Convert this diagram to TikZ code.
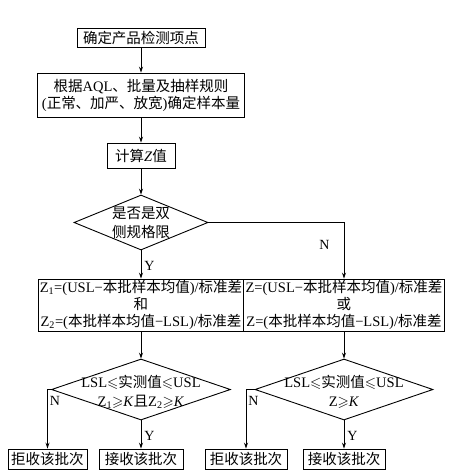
\documentclass[tikz,border=0pt]{standalone}
\usepackage{amssymb}
\usepackage{fontspec}
\setmainfont{Liberation Serif}
\newfontfamily\cjk{Noto Sans CJK SC}
\newcommand\zh[1]{{\cjk #1}}
\newcommand\myle{$\leqslant$}
\newcommand\myge{$\geqslant$}
\usetikzlibrary{shapes.geometric,arrows.meta}
\begin{document}
\begin{tikzpicture}[x=1pt,y=-1pt,
  box/.style={draw,line width=0.9pt,inner sep=0pt,align=center,font=\fontsize{14.5}{17}\selectfont},
  dia/.style={draw,line width=0.9pt,shape=diamond,inner sep=0pt},
  txt/.style={inner sep=0pt,align=center,font=\fontsize{14.5}{19}\selectfont},
  lab/.style={inner sep=0pt,font=\fontsize{14}{14}\selectfont},
  arr/.style={line width=0.9pt,-{Stealth[length=6pt,width=4pt]}}]
\useasboundingbox (0,0) rectangle (454,475);
\node[box,minimum width=128pt,minimum height=19pt] (b1) at (141,37.5) {\zh{确定产品检测项点}};
\node[box,minimum width=207pt,minimum height=44pt] (b2) at (141,95) {\zh{根据}AQL\zh{、批量及抽样规则}\\(\zh{正常、加严、放宽})\zh{确定样本量}};
\node[box,minimum width=68pt,minimum height=25pt] (b3) at (141,155.5) {\zh{计算}\textit{Z}\zh{值}};
\node[dia,minimum width=134pt,minimum height=55pt] (d1) at (141,222.5) {};
\node[txt] (d1t) at (141,222.5) {\zh{是否是双}\\\zh{侧规格限}};
\node[box,minimum width=205pt,minimum height=52pt] (f1) at (141,305) {Z\textsubscript{1}=(USL−\zh{本批样本均值})/\zh{标准差}\\\zh{和}\\Z\textsubscript{2}=(\zh{本批样本均值}−LSL)/\zh{标准差}};
\node[box,minimum width=201pt,minimum height=52pt] (f2) at (344,305) {Z=(USL−\zh{本批样本均值})/\zh{标准差}\\\zh{或}\\Z=(\zh{本批样本均值}−LSL)/\zh{标准差}};
\node[dia,minimum width=179pt,minimum height=61pt] (d2) at (141,389.5) {};
\node[txt] (d2t) at (141,392) {LSL\myle\zh{实测值}\myle USL\\Z\textsubscript{1}\myge\textit{K}\zh{且}Z\textsubscript{2}\myge\textit{K}};
\node[dia,minimum width=178pt,minimum height=61pt] (d3) at (344,389.5) {};
\node[txt] (d3t) at (344,392) {LSL\myle\zh{实测值}\myle USL\\Z\myge\textit{K}};
\node[box,minimum width=79pt,minimum height=20pt] (r1) at (47.5,459) {\zh{拒收该批次}};
\node[box,minimum width=84pt,minimum height=20pt] (a1) at (141,459) {\zh{接收该批次}};
\node[box,minimum width=82pt,minimum height=20pt] (r2) at (246,459) {\zh{拒收该批次}};
\node[box,minimum width=82pt,minimum height=20pt] (a2) at (344,459) {\zh{接收该批次}};
\draw[arr] (b1) -- (b2);
\draw[arr] (b2) -- (b3);
\draw[arr] (b3) -- (d1);
\draw[arr] (d1) -- node[lab,pos=0.55,right=3pt] {Y} (f1);
\draw[arr] (d1.east) -| node[lab,pos=0.7,left=14pt] {N} (f2.north);
\draw[arr] (f1) -- (d2);
\draw[arr] (f2) -- (d3);
\draw[arr] (d2.west) -| node[lab,pos=0.6,right=2pt] {N} (r1.north);
\draw[arr] (d2) -- node[lab,pos=0.55,right=3pt] {Y} (a1);
\draw[arr] (d3.west) -| node[lab,pos=0.6,right=2pt] {N} (r2.north);
\draw[arr] (d3) -- node[lab,pos=0.55,right=3pt] {Y} (a2);
\end{tikzpicture}
\end{document}
